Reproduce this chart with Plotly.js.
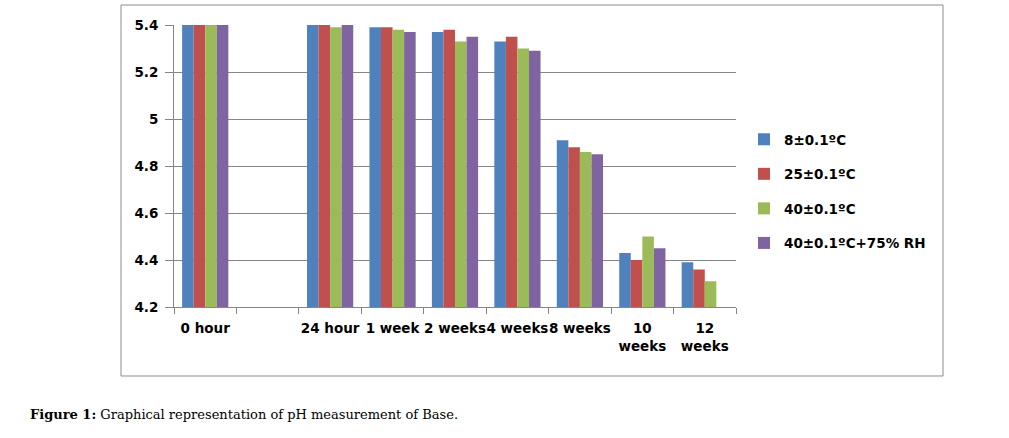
<!DOCTYPE html>
<html>
<head>
<meta charset="utf-8">
<script src="https://cdn.plot.ly/plotly-3.0.1.min.js"></script>
<style>html,body{margin:0;padding:0;background:#fff;}#chart{width:1009px;height:438px;}</style>
</head>
<body>
<div id="chart"></div>
<script>
const categories = ["0 hour", " ", "24 hour", "1 week", "2 weeks", "4 weeks", "8 weeks", "10<br>weeks", "12<br>weeks"];
const seriesNames = ["8±0.1ºC", "25±0.1ºC", "40±0.1ºC", "40±0.1ºC+75% RH"];
const s8C   = [5.40, null, 5.40, 5.39, 5.37, 5.33, 4.91, 4.43, 4.39];
const s25C  = [5.40, null, 5.40, 5.39, 5.38, 5.35, 4.88, 4.40, 4.36];
const s40C  = [5.40, null, 5.39, 5.38, 5.33, 5.30, 4.86, 4.50, 4.31];
const s40RH = [5.40, null, 5.40, 5.37, 5.35, 5.29, 4.85, 4.45, null];
const yTickVals = [4.2, 4.4, 4.6, 4.8, 5.0, 5.2, 5.4];
const yTickText = ["4.2", "4.4", "4.6", "4.8", "5", "5.2", "5.4"];
const captionBold = "Figure 1:";
const captionText = "Graphical representation of pH measurement of Base.";

const colors = ["#4F81BD", "#C0504D", "#9BBB59", "#8064A2"];
const allSeries = [s8C, s25C, s40C, s40RH];

const traces = allSeries.map((vals, i) => ({
  type: "bar",
  x: categories,
  y: vals,
  name: seriesNames[i],
  legendgroup: "g" + i,
  marker: {color: colors[i], line: {width: 0}},
  hoverinfo: "skip"
}));

const W = 1009, H = 438;
const L = 174, R = 736, T = 25, B = 307;
const pw = R - L, ph = B - T;
const px = v => (v - L) / pw;
const py = v => (B - v) / ph;

const layout = {
  width: W, height: H,
  margin: {l: L, r: W - R, t: T, b: H - B, pad: 0},
  paper_bgcolor: "#ffffff",
  plot_bgcolor: "#ffffff",
  barmode: "group",
  bargap: 0.26,
  bargroupgap: 0,
  font: {family: "DejaVu Sans", size: 13, color: "#000000"},
  xaxis: {
    type: "category",
    categoryorder: "array",
    categoryarray: categories,
    range: [-0.5, 8.5],
    tickson: "boundaries",
    tickangle: 0,
    ticks: "outside",
    ticklen: 6,
    tickcolor: "#868686",
    ticklabelstandoff: 9,
    showline: true,
    linecolor: "#868686",
    linewidth: 1,
    showgrid: false,
    tickfont: {family: "DejaVu Sans", size: 13.5, color: "#000", weight: "bold"},
    fixedrange: true
  },
  yaxis: {
    range: [4.2, 5.4],
    tickvals: yTickVals,
    ticktext: yTickText,
    ticks: "outside",
    ticklen: 8,
    tickcolor: "#868686",
    ticklabelstandoff: 4,
    showline: true,
    linecolor: "#868686",
    linewidth: 1,
    showgrid: true,
    gridcolor: "#868686",
    gridwidth: 1,
    zeroline: false,
    tickfont: {family: "DejaVu Sans", size: 13.5, color: "#000", weight: "bold"},
    fixedrange: true
  },
  legend: {
    x: px(744), xanchor: "left",
    y: py(124), yanchor: "top",
    font: {family: "DejaVu Sans", size: 13.5, color: "#000", weight: "bold"},
    tracegroupgap: 14,
    bgcolor: "rgba(0,0,0,0)",
    borderwidth: 0
  },
  shapes: [{
    type: "rect", xref: "paper", yref: "paper",
    x0: px(121), x1: px(943), y0: py(376), y1: py(5),
    line: {color: "#8c8c8c", width: 1}, fillcolor: "rgba(0,0,0,0)", layer: "below"
  }],
  annotations: [{
    xref: "paper", yref: "paper",
    x: px(28), xanchor: "left",
    y: py(414), yanchor: "middle",
    showarrow: false,
    text: "<b>" + captionBold + "</b> " + captionText,
    font: {family: "DejaVu Serif", size: 13, color: "#000"}
  }],
  showlegend: true
};

Plotly.newPlot("chart", traces, layout, {displayModeBar: false, staticPlot: true});
</script>
</body>
</html>
